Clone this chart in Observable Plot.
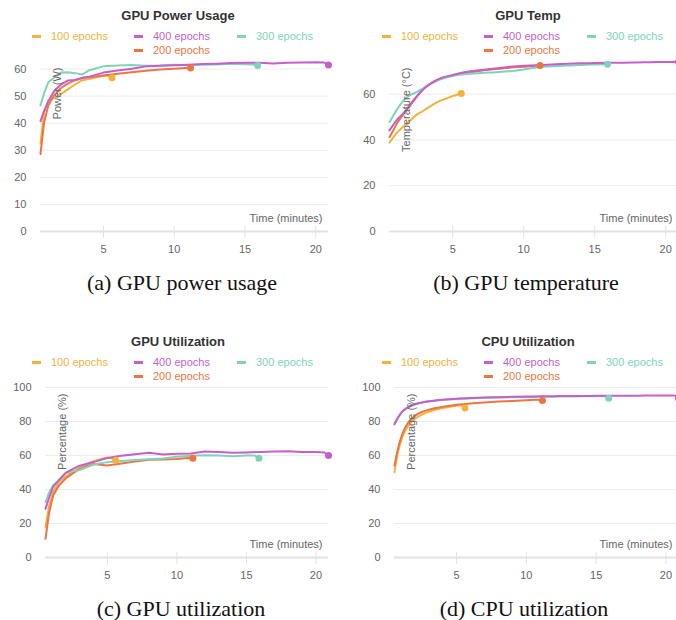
<!DOCTYPE html>
<html>
<head>
<meta charset="utf-8">
<script src="https://cdn.jsdelivr.net/npm/d3@7"></script>
<script src="https://cdn.jsdelivr.net/npm/@observablehq/plot@0.6"></script>
<style>
body { margin: 0; background: #fff; }
#fig { position: relative; width: 676px; height: 620px; overflow: hidden; font-family: "Liberation Sans", Arial, sans-serif; }
.title { position: absolute; font-weight: bold; font-size: 13px; line-height: 14px; color: #333; transform: translateX(-50%); white-space: nowrap; }
.leg { position: absolute; font-size: 11px; line-height: 12px; white-space: nowrap; }
.sw { position: absolute; height: 3px; width: 9px; }
.cap { position: absolute; font-family: "Liberation Serif", "Times New Roman", serif; font-size: 22px; line-height: 22px; color: #111; transform: translateX(-50%); white-space: nowrap; }
#fig svg { position: absolute; }
</style>
</head>
<body>
<div id="fig"></div>
<script>
// ---- runs (legend labels and colours) ----
const runNames = ["100 epochs", "200 epochs", "300 epochs", "400 epochs"];
const runColors = ["#F2B33D", "#EC7542", "#80D3BA", "#C65FCB"];
const legendOrder = ["100 epochs", "400 epochs", "300 epochs", "200 epochs"];

// ---- sample times (minutes) per run ----
const t100 = [0.55, 0.8, 1.1, 1.5, 2.0, 2.5, 3.0, 3.5, 4.0, 4.5, 5.0, 5.3, 5.6];
const t200 = [0.55, 0.8, 1.1, 1.5, 2.0, 2.5, 3.0, 3.5, 4.0, 5, 6, 7, 8, 9, 10, 10.8, 11.15];
const t300 = [0.55, 0.8, 1.1, 1.5, 2.0, 2.5, 3.0, 3.5, 4.0, 5, 6, 7, 8, 9, 10, 11, 12, 13, 14, 15, 15.6, 15.9];
const t400 = [0.55, 0.8, 1.1, 1.5, 2.0, 2.5, 3.0, 3.5, 4.0, 5, 6, 7, 8, 9, 10, 11, 12, 13, 14, 15, 16, 17, 18, 19, 20, 20.6, 20.9];

// ---- x ticks ----
const xTicks = [5, 10, 15, 20];

// ---- (a) GPU power usage (W) ----
const powerTicks = [0, 10, 20, 30, 40, 50, 60];
const power100 = [32.5, 43.9, 48.5, 49.4, 50.8, 52.6, 54.3, 55.9, 56.3, 57.0, 57.5, 57.6, 56.8];
const power200 = [28.6, 40.2, 46.5, 50.2, 53.0, 54.7, 55.9, 56.7, 57.0, 57.6, 58.3, 58.8, 59.4, 59.8, 60.1, 60.4, 60.4];
const power300 = [46.6, 51.0, 55.1, 56.8, 58.7, 58.8, 58.5, 58.0, 59.6, 61.0, 61.3, 61.5, 61.2, 61.3, 61.6, 61.4, 61.6, 61.7, 62.0, 61.8, 61.7, 61.3];
const power400 = [40.8, 44.5, 48.0, 51.8, 54.3, 55.8, 56.0, 56.8, 57.2, 58.7, 59.5, 60.1, 61.0, 61.2, 61.4, 61.6, 61.9, 62.0, 62.2, 62.3, 62.3, 62.1, 62.3, 62.4, 62.5, 62.4, 61.5];

// ---- (b) GPU temperature (°C) ----
const tempTicks = [0, 20, 40, 60];
const temp100 = [38.8, 41.0, 43.3, 45.8, 48.5, 51.2, 53.0, 55.0, 56.8, 58.0, 59.2, 59.8, 60.3];
const temp200 = [41.3, 44.0, 47.5, 51.0, 55.5, 59.3, 62.8, 65.0, 66.5, 68.2, 69.3, 70.3, 71.0, 71.6, 72.0, 72.3, 72.5];
const temp300 = [47.8, 50.5, 53.5, 57.0, 59.6, 61.0, 62.8, 64.6, 66.2, 68.0, 68.8, 69.3, 69.6, 70.0, 70.8, 71.8, 72.2, 72.5, 72.8, 73.0, 73.1, 73.1];
const temp400 = [44.2, 46.5, 49.0, 51.5, 55.0, 59.2, 62.5, 64.8, 66.6, 68.4, 69.8, 70.6, 71.2, 72.0, 72.4, 72.7, 73.0, 73.3, 73.5, 73.6, 73.7, 73.8, 73.9, 74.0, 74.1, 74.1, 74.1];

// ---- (c) GPU utilization (%) ----
const pctTicks = [0, 20, 40, 60, 80, 100];
const gpu100 = [17.8, 30.0, 38.5, 44.3, 47.8, 50.2, 52.8, 55.0, 56.6, 57.8, 58.9, 58.3, 57.2];
const gpu200 = [11.0, 26.0, 36.5, 42.2, 46.5, 49.5, 52.0, 53.7, 55.0, 54.1, 55.3, 56.5, 57.5, 57.6, 58.0, 58.6, 58.4];
const gpu300 = [32.5, 38.0, 42.6, 45.0, 49.7, 50.8, 51.5, 53.0, 54.7, 56.1, 56.8, 57.4, 57.8, 58.3, 59.2, 59.8, 60.2, 60.0, 59.6, 60.0, 60.0, 58.4];
const gpu400 = [28.6, 35.0, 41.5, 45.5, 49.8, 52.0, 54.0, 55.0, 56.1, 58.5, 59.8, 60.7, 61.6, 60.6, 61.0, 61.2, 62.3, 62.0, 61.6, 61.8, 62.1, 62.4, 62.5, 62.1, 62.0, 61.8, 60.0];

// ---- (d) CPU utilization (%) ----
const cpu100 = [50.2, 62.0, 70.5, 77.0, 81.5, 84.0, 85.7, 86.9, 87.9, 88.7, 89.3, 89.5, 88.0];
const cpu200 = [54.1, 64.0, 72.5, 79.0, 83.3, 85.6, 86.9, 87.9, 88.7, 89.8, 90.6, 91.2, 91.7, 92.1, 92.5, 92.8, 92.4];
const cpu300 = [78.2, 82.0, 85.6, 88.1, 90.0, 91.0, 91.7, 92.3, 92.7, 93.2, 93.6, 93.9, 94.1, 94.3, 94.4, 94.5, 94.6, 94.7, 94.8, 94.8, 94.9, 93.7];
const cpu400 = [78.6, 82.3, 85.8, 88.3, 90.2, 91.2, 91.9, 92.4, 92.8, 93.4, 93.8, 94.1, 94.3, 94.5, 94.7, 94.8, 94.9, 95.0, 95.0, 95.1, 95.1, 95.2, 95.2, 95.3, 95.3, 95.3, 93.6];

const runTimes = [t100, t200, t300, t400];

const panels = [
  {title: "GPU Power Usage", caption: "(a) GPU power usage", yLabel: "Power (W)", ticks: powerTicks, yMax: 62.8,
   values: [power100, power200, power300, power400], curve: "linear",
   left: 0, top: 0, mLeft: 40, capX: 182},
  {title: "GPU Temp", caption: "(b) GPU temperature", yLabel: "Temperature (°C)", ticks: tempTicks, yMax: 74.3,
   values: [temp100, temp200, temp300, temp400], curve: "monotone-x",
   left: 350, top: 0, mLeft: 39, capX: 526},
  {title: "GPU Utilization", caption: "(c) GPU utilization", yLabel: "Percentage (%)", ticks: pctTicks, yMax: 100,
   values: [gpu100, gpu200, gpu300, gpu400], curve: "linear",
   left: 0, top: 326, mLeft: 45, capX: 181},
  {title: "CPU Utilization", caption: "(d) CPU utilization", yLabel: "Percentage (%)", ticks: pctTicks, yMax: 100,
   values: [cpu100, cpu200, cpu300, cpu400], curve: "monotone-x",
   left: 350, top: 326, mLeft: 44, capX: 524}
];

const fig = document.getElementById("fig");
const colorOf = Object.fromEntries(runNames.map((n, i) => [n, runColors[i]]));
const legendSlots = [[51, 0], [153, 0], [256, 0], [153, 14]];

function el(cls, text, style) {
  const d = document.createElement("div");
  d.className = cls;
  if (text != null) d.textContent = text;
  Object.assign(d.style, style);
  fig.appendChild(d);
  return d;
}

for (const p of panels) {
  // title
  el("title", p.title, {left: (p.left + 178) + "px", top: (p.top + 9) + "px"});
  // legend
  legendOrder.forEach((name, k) => {
    const [lx, ly] = legendSlots[k];
    el("leg", name, {left: (p.left + lx) + "px", top: (p.top + 30 + ly) + "px", color: colorOf[name]});
    el("sw", null, {left: (p.left + lx - 19) + "px", top: (p.top + 35 + ly) + "px", background: colorOf[name]});
  });
  // data
  const data = [];
  const last = [];
  runNames.forEach((name, i) => {
    runTimes[i].forEach((t, j) => data.push({run: name, t, v: p.values[i][j]}));
    const n = runTimes[i].length - 1;
    last.push({run: name, t: runTimes[i][n], v: p.values[i][n]});
  });
  const chart = Plot.plot({
    width: 340,
    height: 210,
    marginTop: 10,
    marginBottom: 30,
    marginLeft: p.mLeft,
    marginRight: 12,
    x: {domain: [0.55, 20.9]},
    y: {domain: [0, p.yMax]},
    color: {domain: runNames, range: runColors},
    style: {fontFamily: '"Liberation Sans", Arial, sans-serif', fontSize: "11px", color: "#666", background: "transparent", overflow: "visible"},
    marks: [
      Plot.gridY(p.ticks.filter(d => d > 0), {stroke: "#ececec", strokeOpacity: 1}),
      Plot.axisY(p.ticks, {tickSize: 0, tickPadding: 14, label: null, fill: "#666"}),
      Plot.ruleY([0], {stroke: "#e2e2e2", strokeWidth: 2}),
      Plot.axisX(xTicks, {tickSize: 12, dy: -5, tickFormat: () => "", stroke: "#e2e2e2", strokeOpacity: 1, label: null}),
      Plot.axisX(xTicks, {tickSize: 0, tickPadding: 14, label: null, fill: "#666"}),
      Plot.line(data, {x: "t", y: "v", stroke: "run", z: "run", strokeWidth: 2, curve: p.curve}),
      Plot.dot(last, {x: "t", y: "v", fill: "run", r: 3.5}),
      Plot.text([p.yLabel], {frameAnchor: "top-left", rotate: -90, textAnchor: "end", dx: 13, dy: 6, fill: "#666"}),
      Plot.text(["Time (minutes)"], {frameAnchor: "bottom-right", textAnchor: "end", dx: -6, dy: -10, fill: "#666"})
    ]
  });
  chart.style.left = p.left + "px";
  chart.style.top = (p.top + 51) + "px";
  fig.appendChild(chart);
  // caption
  el("cap", p.caption, {left: p.capX + "px", top: (p.top + 272) + "px"});
}
</script>
</body>
</html>
